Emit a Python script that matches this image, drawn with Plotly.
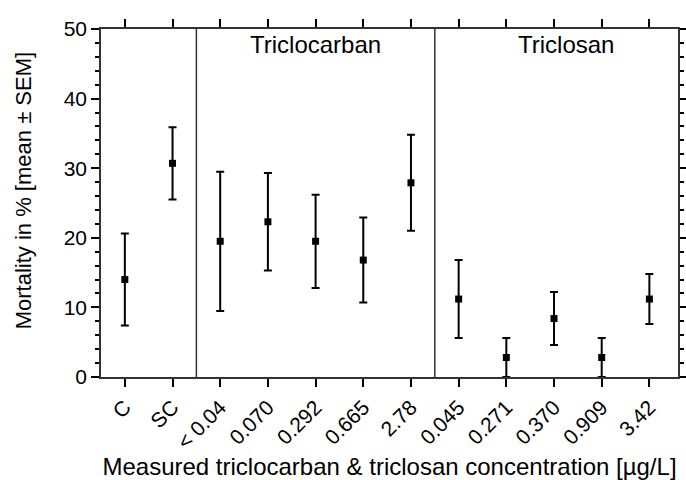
import plotly.graph_objects as go

# Groups: controls, triclocarban, triclosan
categories = ["C", "SC", "< 0.04", "0.070", "0.292", "0.665", "2.78",
              "0.045", "0.271", "0.370", "0.909", "3.42"]
mortality_mean = [14.0, 30.7, 19.5, 22.3, 19.5, 16.8, 27.9, 11.2, 2.8, 8.4, 2.8, 11.2]
mortality_sem = [6.6, 5.2, 10.0, 7.0, 6.7, 6.1, 6.9, 5.6, 2.8, 3.8, 2.8, 3.6]
group_breaks = [1.5, 6.5]
group_labels = ["Triclocarban", "Triclosan"]
group_label_x = [4, 9.25]

FONT = "Liberation Sans, Arial, sans-serif"
x_pos = list(range(len(categories)))

fig = go.Figure()

fig.add_trace(go.Scatter(
    x=x_pos,
    y=mortality_mean,
    mode="markers",
    marker=dict(symbol="square", size=7, color="black"),
    error_y=dict(type="data", array=mortality_sem, visible=True,
                 color="black", thickness=2, width=4),
    showlegend=False,
    cliponaxis=False,
))

# separators between groups
for xb in group_breaks:
    fig.add_shape(type="line", x0=xb, x1=xb, y0=0, y1=50,
                  xref="x", yref="y", line=dict(color="#333333", width=1.5))

for label, lx in zip(group_labels, group_label_x):
    fig.add_annotation(x=lx, y=47.8, text=label, showarrow=False,
                       xref="x", yref="y", yanchor="middle",
                       font=dict(family=FONT, size=24, color="black"))

# y axis title, placed by hand (sits a bit above the axis centre)
fig.add_annotation(x=-0.135, y=0.534, xref="paper", yref="paper",
                   text="Mortality in % [mean ± SEM]", textangle=-90,
                   showarrow=False, xanchor="center", yanchor="middle",
                   font=dict(family=FONT, size=22, color="black"))

fig.update_layout(
    width=686,
    height=480,
    margin=dict(l=101, r=8, t=29, b=103),
    plot_bgcolor="white",
    paper_bgcolor="white",
    font=dict(family=FONT, color="black"),
)

fig.update_xaxes(
    range=[-0.5, 11.6],
    tickmode="array",
    tickvals=x_pos,
    ticktext=categories,
    tickangle=-45,
    tickfont=dict(size=21),
    ticks="outside",
    ticklen=8,
    tickwidth=1.5,
    tickcolor="black",
    showline=True,
    linecolor="#333333",
    linewidth=1.5,
    mirror="ticks",
    showgrid=False,
    zeroline=False,
    automargin=False,
    title=dict(text="Measured triclocarban &amp; triclosan concentration [µg/L]",
               font=dict(size=24), standoff=4),
)

fig.update_yaxes(
    range=[0, 50],
    dtick=10,
    tickfont=dict(size=21),
    ticks="outside",
    ticklen=8,
    tickwidth=1.5,
    tickcolor="black",
    minor=dict(dtick=2, ticks="outside", ticklen=4, tickwidth=1.5, tickcolor="black"),
    showline=True,
    linecolor="#333333",
    linewidth=1.5,
    mirror="ticks",
    showgrid=False,
    zeroline=False,
    automargin=False,
)

fig.write_html("out.html", config={"displayModeBar": False},
               post_script="document.body.style.margin='0';")
